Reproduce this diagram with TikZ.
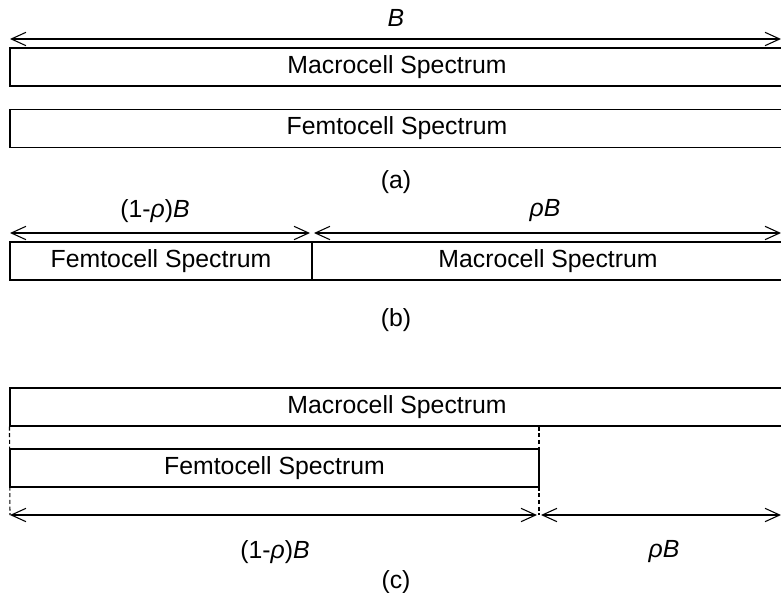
\documentclass[tikz,border=0pt]{standalone}
\usepackage{fontspec}
\setmainfont{Liberation Sans}
\usetikzlibrary{arrows.meta}

\begin{document}
\begin{tikzpicture}[x=0.75pt, y=-0.75pt,
    every node/.style={font=\fontsize{18.6}{21}\selectfont},
    spec/.style={draw, rectangle, line width=0.8pt, inner sep=0pt, minimum height=28.5pt},
    dim/.style={{Straight Barb[length=11pt, width=10pt]}-{Straight Barb[length=11pt, width=10pt]}, line width=0.8pt},
    guide/.style={line width=0.8pt, dash pattern=on 3pt off 2pt}]
    \useasboundingbox (0,0) rectangle (781,592);

    % (a)
    \coordinate (AL) at (10,39);
    \coordinate (AR) at (781,39);
    \node (AB) at (396,18) {\textit{B}};
    \node[spec, minimum width=580.5pt] (AMacro) at (397,67) {Macrocell Spectrum};
    \node[spec, minimum width=580.5pt] (AFemto) at (397,128.5) {Femtocell Spectrum};
    \node (Acap) at (396,182) {(a)};
    \draw[dim] (AL) -- (AR);

    % (b)
    \coordinate (BL) at (10,233);
    \coordinate (BM1) at (310,233);
    \coordinate (BM2) at (314,233);
    \coordinate (BR) at (781,233);
    \node (BFrac) at (155,211) {(1-\textit{ρ})\textit{B}};
    \node (BRho) at (545,211) {\textit{ρB}};
    \node[spec, minimum width=226.5pt] (BFemto) at (161,261) {Femtocell Spectrum};
    \node[spec, minimum width=354pt] (BMacro) at (548,261) {Macrocell Spectrum};
    \node (Bcap) at (396,320) {(b)};
    \draw[dim] (BL) -- (BM1);
    \draw[dim] (BM2) -- (BR);

    % (c)
    \coordinate (CL) at (10,515);
    \coordinate (CM1) at (537,515);
    \coordinate (CM) at (539,515);
    \coordinate (CM2) at (541,515);
    \coordinate (CR) at (781,515);
    \node[spec, minimum width=580.5pt] (CMacro) at (397,407) {Macrocell Spectrum};
    \node[spec, minimum width=396.75pt] (CFemto) at (274.5,468) {Femtocell Spectrum};
    \node (CFrac) at (275,552) {(1-\textit{ρ})\textit{B}};
    \node (CRho) at (664,552) {\textit{ρB}};
    \node (Ccap) at (396,582) {(c)};
    \draw[guide] (CMacro.south west) -- (CL);
    \draw[guide] (CM |- CMacro.south) -- (CM);
    \draw[dim] (CL) -- (CM1);
    \draw[dim] (CM2) -- (CR);
\end{tikzpicture}
\end{document}
